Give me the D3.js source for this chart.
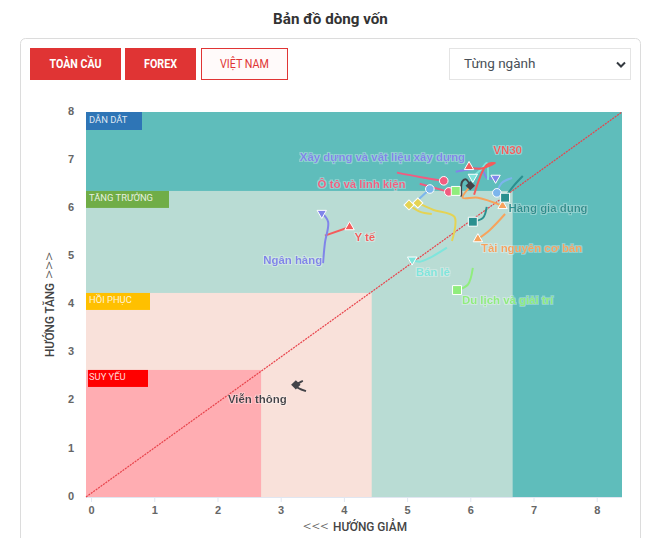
<!DOCTYPE html>
<html><head><meta charset="utf-8">
<script src="https://cdn.jsdelivr.net/npm/d3@7"></script>
<style>html,body{margin:0;padding:0;background:#fff;overflow:hidden}svg{display:block}</style>
</head><body><svg id="c" width="659" height="538"></svg>
<script>
const title = "Bản đồ dòng vốn";
const buttons = ["TOÀN CẦU", "FOREX", "VIỆT NAM"];
const selectLabel = "Từng ngành";
const xTicks = [0,1,2,3,4,5,6,7,8];
const yTicks = [0,1,2,3,4,5,6,7,8];
const xLabel = ["<<<", "HƯỚNG GIẢM"];
const yLabel = ["HƯỚNG TĂNG", ">>>"];
const xBands = [2.69, 4.44, 6.67];
const yBands = [2.64, 4.24, 6.36];
const zoneNames = ["DẪN DẮT", "TĂNG TRƯỞNG", "HỒI PHỤC", "SUY YẾU"];
const seriesNames = ["Xây dựng và vật liệu xây dựng","VN30","Ô tô và linh kiện","Hàng gia dụng","Tài nguyên cơ bản","Bán lẻ","Du lịch và giải trí","Y tế","Ngân hàng","Viễn thông"];

const xayDung = [[5.77,6.76],[5.96,6.80],[6.18,6.82],[6.26,6.63],[6.40,6.63]];
const vn30 = [[6.06,6.28],[6.26,6.90],[6.39,6.94],[6.15,6.82],[5.98,6.86]];
const hoaChat = [[6.28,6.59],[6.26,6.94],[6.18,6.82],[6.04,6.65]];
const banLe = [[5.63,5.18],[5.36,4.97],[5.20,4.89],[5.08,4.93]];
const oTo = [[4.84,6.74],[5.20,6.65],[5.58,6.57]];
const baoHiem = [[5.20,6.51],[5.66,6.34]];
const thucPham = [[5.72,6.33],[5.77,6.36]];
const dichVu = [[5.17,6.17],[5.36,6.40]];
const congNghe = [[6.66,6.63],[6.50,6.53],[6.42,6.32]];
const dauKhi = [[5.39,5.88],[5.20,5.93],[5.03,6.07]];
const batDongSan = [[5.71,5.32],[5.75,5.82],[5.41,5.97],[5.17,6.11]];
const taiChinh = [[5.86,6.24],[5.87,6.55],[5.93,6.60],[6.00,6.47]];
const hangGiaDung = [[6.83,6.67],[6.67,6.44],[6.55,6.22]];
const hoaPham = [[6.26,6.03],[6.20,5.80],[6.04,5.72]];
const nganhCam = [[5.99,6.44],[5.88,6.22],[6.12,6.22],[6.51,6.05]];
const taiNguyen = [[6.55,5.88],[6.31,5.55],[6.12,5.36]];
const duLich = [[6.04,4.76],[5.96,4.41],[5.79,4.30]];
const yTe = [[3.70,5.43],[4.09,5.61]];
const nganHang = [[3.67,4.86],[3.70,5.28],[3.75,5.72],[3.65,5.90]];
const vienThong = [[3.40,2.20],[3.24,2.31],[3.34,2.41],[3.24,2.33]];

const X = d3.scaleLinear().domain([-0.08,8.4]).range([86,622]);
const Y = d3.scaleLinear().domain([0,8]).range([497,112]);
const svg = d3.select("#c");
const ROB = "Roboto, sans-serif", LIB = "'Liberation Sans', Arial, sans-serif";

const defs = svg.append("defs");
const f = defs.append("filter").attr("id","halo").attr("x","-10%").attr("y","-30%").attr("width","120%").attr("height","160%");
f.append("feMorphology").attr("in","SourceAlpha").attr("operator","dilate").attr("radius",0.6).attr("result","d");
f.append("feGaussianBlur").attr("in","d").attr("stdDeviation",0.6).attr("result","b");
f.append("feFlood").attr("flood-color","#fff").attr("flood-opacity",0.3);
f.append("feComposite").attr("in2","b").attr("operator","in").attr("result","w");
const m = f.append("feMerge"); m.append("feMergeNode").attr("in","w"); m.append("feMergeNode").attr("in","SourceGraphic");

svg.append("text").attr("x",330.5).attr("y",24).attr("text-anchor","middle").attr("font-family",ROB).attr("font-weight",700).attr("font-size",15.2).attr("fill","#333").text(title);
svg.append("rect").attr("x",20.5).attr("y",38.5).attr("width",620).attr("height",520).attr("rx",5).attr("fill","#fff").attr("stroke","#dcdcdc");

const btnBoxes = [[30,91,52],[125,71,33],[201,87,49]];
buttons.forEach((b,i)=>{
  const [bx,bw,tw]=btnBoxes[i], on=i<2;
  svg.append("rect").attr("x",bx+(on?0:.5)).attr("y",on?48:48.5).attr("width",bw-(on?0:1)).attr("height",on?32:31)
    .attr("fill",on?"#e03434":"#fffafa").attr("stroke",on?"none":"#e03434");
  svg.append("text").attr("x",bx+bw/2).attr("y",68).attr("text-anchor","middle").attr("font-family",ROB)
    .attr("font-weight",on?700:400).attr("font-size",12).attr("textLength",tw).attr("lengthAdjust","spacingAndGlyphs").attr("fill",on?"#fff":"#e03434").text(b);
});
svg.append("rect").attr("x",449.5).attr("y",48.5).attr("width",181).attr("height",31).attr("fill","#fff").attr("stroke","#e4e4e4");
svg.append("text").attr("x",464).attr("y",68).attr("font-family",ROB).attr("font-size",13.5).attr("fill","#495057").text(selectLabel);
svg.append("path").attr("d","M617 62.5l4 4 4-4").attr("fill","none").attr("stroke","#343a40").attr("stroke-width",2);

// zones
const [xa,xb,xc]=xBands, [ya,yb,yc]=yBands, x0=X.domain()[0], x1=X.domain()[1];
const zones = [[x0,x1,0,8,"#5fbdbb"],[x0,xc,0,yc,"#b9dcd4"],[x0,xb,0,yb,"#f9e1da"],[x0,xa,0,ya,"#ffadb2"]];
svg.selectAll("rect.z").data(zones).join("rect").attr("class","z")
  .attr("x",d=>X(d[0])).attr("width",d=>X(d[1])-X(d[0])).attr("y",d=>Y(d[3])).attr("height",d=>Y(d[2])-Y(d[3])).attr("fill",d=>d[4]);

// axes
const ax = svg.append("g").attr("transform",`translate(0,${Y(0)})`).call(d3.axisBottom(X).tickValues(xTicks).tickSize(5).tickPadding(4));
ax.select(".domain").attr("stroke","#e0e6f1").attr("d",`M86 0.5H622`);
ax.selectAll("line").attr("stroke","#e0e6f1");
ax.selectAll("text").attr("font-family",LIB).attr("font-weight",700).attr("font-size",11).attr("fill","#666");
const ay = svg.append("g").attr("transform","translate(86,0)").call(d3.axisLeft(Y).tickValues(yTicks).tickSize(0).tickPadding(12));
ay.select(".domain").remove();
ay.selectAll("text").attr("font-family",LIB).attr("font-weight",700).attr("font-size",11).attr("fill","#666").attr("dy","0.2em");

// axis titles: thin wide arrows + condensed bold words
const axisWord = (sel,t,w)=>sel.append("text").attr("font-family",ROB).attr("font-weight",500).attr("font-size",12).attr("textLength",w).attr("lengthAdjust","spacingAndGlyphs").attr("fill","#444").text(t);
const axisArrow = (sel,t,w)=>sel.append("text").attr("font-family",ROB).attr("font-weight",300).attr("font-size",14).attr("textLength",w).attr("lengthAdjust","spacingAndGlyphs").attr("fill","#555").text(t);
const xt = svg.append("g").attr("transform","translate(303,531)");
axisArrow(xt,xLabel[0],26); axisWord(xt,xLabel[1],74).attr("x",30);
const yt = svg.append("g").attr("transform","translate(54,357) rotate(-90)");
axisWord(yt,yLabel[0],74); axisArrow(yt,yLabel[1],27).attr("x",78);

// diagonal
const line = d3.line().x(d=>X(d[0])).y(d=>Y(d[1]));
svg.append("path").attr("d",line([[x0,0],[x1,8]])).attr("fill","none").attr("stroke","#e8444c").attr("stroke-width",1.2).attr("stroke-dasharray","2 1");

// zone tags
const tags = [[x0,8,56,18,"#2e75b6",0],[x0,yc,83,17,"#70ad47",1],[x0,yb,64,17,"#ffc000",2],[x0,ya,60,17,"#ff0000",3]];
tags.forEach(t=>{
  const tx=X(t[0])+(t[5]==3?2:0), ty=Y(t[1]);
  svg.append("rect").attr("x",tx).attr("y",ty).attr("width",t[2]).attr("height",t[3]).attr("fill",t[4]);
  svg.append("text").attr("x",X(t[0])+3).attr("y",ty+10.5).attr("font-family",ROB).attr("font-size",9.4).attr("fill","#fff").attr("fill-opacity",.85).text(zoneNames[t[5]]);
});

// trails
const trails = [
 [xayDung,"#8085e9","i"],[hoaChat,"#7fe5dc","i"],[vn30,"#f45b5b","t"],[banLe,"#7fe5dc","i"],
 [oTo,"#f15c80","c"],[baoHiem,"#f15c80","c"],[thucPham,"#90ed7d","s"],[dichVu,"#7cb5ec","c"],[congNghe,"#7cb5ec","c"],
 [dauKhi,"#e4d354","d"],[batDongSan,"#e4d354","d"],[taiChinh,"#434348","k"],
 [nganhCam,"#f7a35c","t"],[taiNguyen,"#f7a35c","t"],[hangGiaDung,"#2b908f","s"],[hoaPham,"#2b908f","s"],
 [duLich,"#90ed7d","s"],[yTe,"#f45b5b","t"],[nganHang,"#8085e9","i"],[vienThong,"#434348","k"]
];
const shape = k => {
  if (k==="c") return d3.symbol().type(d3.symbolCircle).size(58)();
  if (k==="s") return d3.symbol().type(d3.symbolSquare).size(80)();
  if (k==="d"||k==="k") return d3.symbol().type(d3.symbolSquare).size(k==="d"?50:45)();
  return d3.symbol().type(d3.symbolTriangle).size(38)();
};
const rot = k => k==="i"?" rotate(180)":(k==="d"||k==="k")?" rotate(45)":"";
const curve = d3.line().x(d=>X(d[0])).y(d=>Y(d[1])).curve(d3.curveCatmullRom.alpha(.5));
const g = svg.append("g");
g.selectAll("path.t").data(trails).join("path").attr("class","t").attr("d",d=>curve(d[0])).attr("fill","none").attr("stroke",d=>d[1]).attr("stroke-width",2);
g.selectAll("path.m").data(trails).join("path").attr("class","m")
 .attr("d",d=>shape(d[2]))
 .attr("transform",d=>{const p=d[0][d[0].length-1];return `translate(${X(p[0])},${Y(p[1])})`+rot(d[2])})
 .attr("fill",d=>d[1]).attr("stroke",d=>d[2]==="k"?"none":"#fff").attr("stroke-width",1);

// labels (position read in data units)
const labelX = [4.61,6.59,4.28,7.23,6.97,5.41,6.59,4.33,3.19,2.63];
const labelY = [6.99,7.13,6.42,5.93,5.09,4.59,4.01,5.32,4.84,1.95];
const labelColors = ["#8085e9","#f45b5b","#f15c80","#2b908f","#f7a35c","#7fe5dc","#90ed7d","#f45b5b","#8085e9","#434348"];
svg.selectAll("text.l").data(seriesNames).join("text").attr("class","l")
 .attr("x",(d,i)=>X(labelX[i])).attr("y",(d,i)=>Y(labelY[i])).attr("text-anchor","middle").attr("font-family",LIB)
 .attr("font-weight",700).attr("font-size",11.4).attr("fill",(d,i)=>labelColors[i]).attr("filter","url(#halo)").text(d=>d);
</script></body></html>
